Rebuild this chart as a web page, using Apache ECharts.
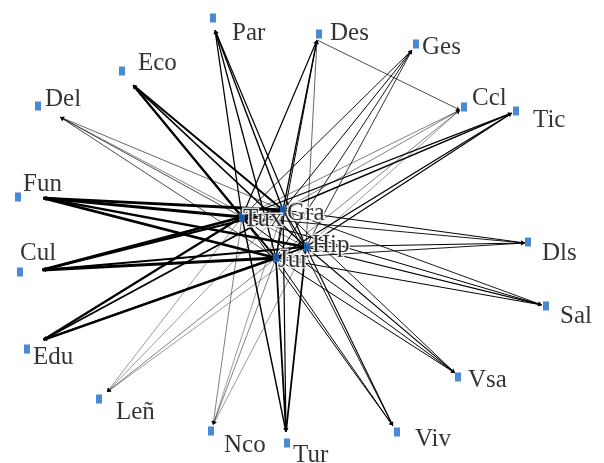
<!DOCTYPE html>
<html>
<head>
<meta charset="utf-8">
<script src="https://cdn.jsdelivr.net/npm/echarts@6/dist/echarts.min.js"></script>
<style>
html,body{margin:0;padding:0;background:#fff;}
#main{width:604px;height:463px;}
</style>
</head>
<body>
<div id="main"></div>
<script>
//外围节点
var outer = ['Par','Eco','Del','Fun','Cul','Edu','Leñ','Nco','Tur','Viv','Vsa','Sal','Dls','Tic','Ccl','Ges','Des'];
//中心节点
var hubs = ['Tux','Gra','Hip','Jur'];
//外围节点到中心节点的连线权重 (Tux, Gra, Hip, Jur)
var weights = [
    [1.3,1.4,1.2,1.3],   // Par
    [2.2,2.0,1.6,1.8],   // Eco
    [0.7,0.6,0.5,0.7],   // Del
    [3.0,2.8,2.4,2.6],   // Fun
    [2.8,2.2,2.0,3.2],   // Cul
    [2.2,1.8,1.6,2.4],   // Edu
    [0.4,0.4,0.4,0.5],   // Leñ
    [0.5,0.4,0.4,0.5],   // Nco
    [1.4,1.2,1.8,1.8],   // Tur
    [1.0,0.9,1.1,1.0],   // Viv
    [1.0,0.9,1.1,1.0],   // Vsa
    [1.0,0.9,1.2,1.0],   // Sal
    [0.9,1.0,1.2,0.9],   // Dls
    [1.3,1.4,1.2,1.3],   // Tic
    [0.5,0.5,0.4,0.5],   // Ccl
    [0.9,1.0,0.8,0.9],   // Ges
    [1.2,1.3,0.6,1.0]    // Des
];
//其它连线
var extraLinks = [
    ['Des','Ccl',0.7],
    ['Tux','Gra',1.6],
    ['Tux','Jur',1.4],
    ['Gra','Hip',1.2],
    ['Hip','Jur',1.2],
    ['Gra','Jur',1.0]
];

//坐标 (像素)
var markerPos = {
    Par:[213,18], Eco:[122,71], Del:[38,106], Fun:[18,197], Cul:[20,272], Edu:[27,349],
    'Leñ':[99,399], Nco:[211,431], Tur:[287,443], Viv:[397,432], Vsa:[458,377], Sal:[546,306],
    Dls:[528,242], Tic:[516,111], Ccl:[464,107], Ges:[416,44], Des:[319,34],
    Tux:[242,217], Gra:[283,210], Hip:[307,247], Jur:[276,258]
};
var anchorPos = {
    Par:[215,30], Eco:[133,85], Del:[60,117], Fun:[43,198], Cul:[42,270], Edu:[43,340],
    'Leñ':[107,392], Nco:[213,425], Tur:[286,432], Viv:[393,426], Vsa:[455,373], Sal:[542,305],
    Dls:[525,243], Tic:[512,113], Ccl:[460,110], Ges:[412,50], Des:[317,40],
    Tux:[242,217], Gra:[283,210], Hip:[306,247], Jur:[276,258]
};
var labelOffset = {
    Par:[19,15], Eco:[16,-8], Del:[7,-7], Fun:[5,-13], Cul:[0,-19], Edu:[6,8],
    'Leñ':[17,13], Nco:[13,14], Tur:[6,12], Viv:[18,7], Vsa:[10,3], Sal:[14,10],
    Dls:[14,11], Tic:[17,9], Ccl:[8,-9], Ges:[6,3], Des:[11,-1],
    Tux:[1,2], Gra:[4,3], Hip:[5,-2], Jur:[2,2]
};

var allNames = outer.concat(hubs);

var graphNodes = allNames.map(function (n) {
    return { name: n, value: anchorPos[n] };
});

var graphLinks = [];
for (var i = 0; i < outer.length; i++) {
    for (var j = 0; j < hubs.length; j++) {
        graphLinks.push({
            source: hubs[j],
            target: outer[i],
            lineStyle: { width: weights[i][j] }
        });
    }
}
extraLinks.forEach(function (l) {
    graphLinks.push({ source: l[0], target: l[1], lineStyle: { width: l[2] } });
});

var markers = allNames.map(function (n) {
    var isHub = hubs.indexOf(n) >= 0;
    return {
        name: n,
        value: markerPos[n],
        label: {
            offset: labelOffset[n],
            textBorderColor: isHub ? '#fff' : 'transparent',
            textBorderWidth: isHub ? 3 : 0
        }
    };
});

var myChart = echarts.init(document.getElementById('main'));
var option = {
    animation: false,
    backgroundColor: '#fff',
    grid: { left: 0, right: 0, top: 0, bottom: 0 },
    xAxis: { type: 'value', min: 0, max: 604, show: false },
    yAxis: { type: 'value', min: 0, max: 463, inverse: true, show: false },
    series: [
        {
            type: 'graph',
            coordinateSystem: 'cartesian2d',
            symbolSize: 1,
            itemStyle: { opacity: 0 },
            edgeSymbol: ['none', 'arrow'],
            edgeSymbolSize: 3.5,
            lineStyle: { color: '#000', opacity: 1, curveness: 0 },
            label: { show: false },
            data: graphNodes,
            links: graphLinks,
            z: 1
        },
        {
            type: 'scatter',
            symbol: 'rect',
            symbolSize: [6, 9],
            itemStyle: { color: '#1a6dcc' },
            label: {
                show: true,
                position: 'inside',
                align: 'left',
                verticalAlign: 'middle',
                color: '#000',
                fontFamily: "'Liberation Serif', 'Times New Roman', serif",
                fontSize: 25,
                formatter: '{b}'
            },
            data: markers,
            z: 3
        }
    ]
};
myChart.setOption(option);
</script>
</body>
</html>
